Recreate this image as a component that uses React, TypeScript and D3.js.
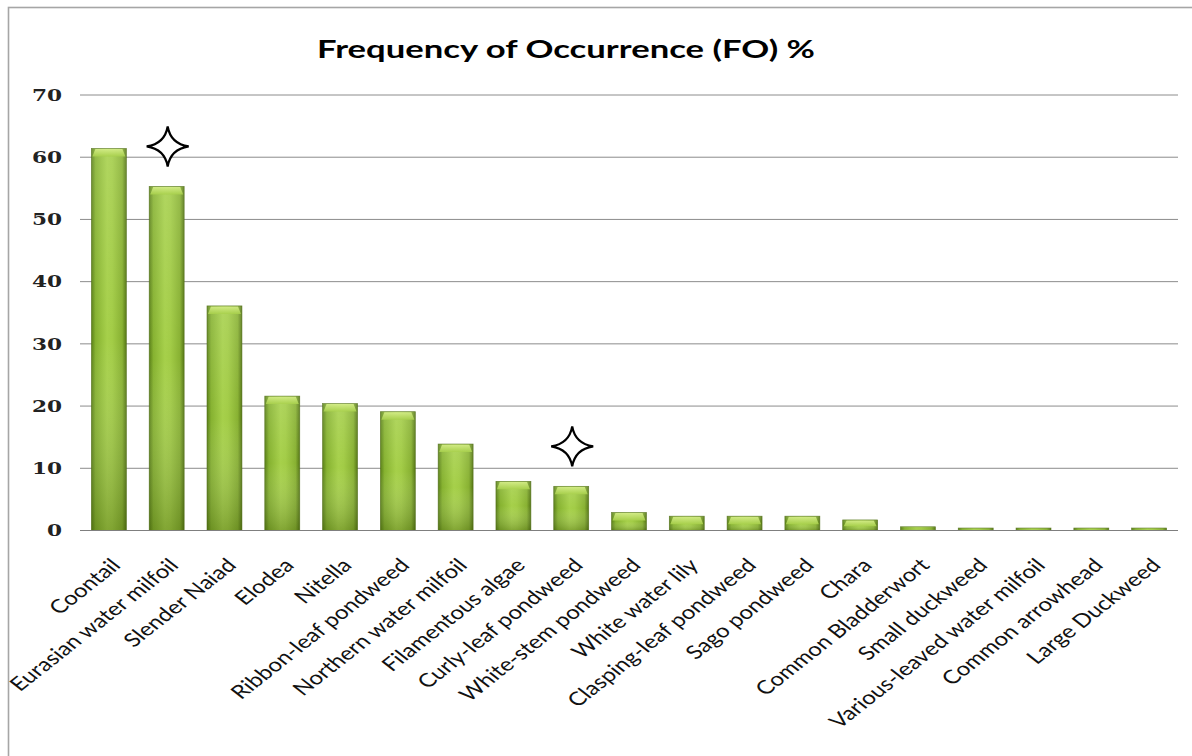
import React from "react";
import * as d3 from "d3";

const categories = [
  "Coontail",
  "Eurasian water milfoil",
  "Slender Naiad",
  "Elodea",
  "Nitella",
  "Ribbon-leaf pondweed",
  "Northern water milfoil",
  "Filamentous algae",
  "Curly-leaf pondweed",
  "White-stem pondweed",
  "White water lily",
  "Clasping-leaf pondweed",
  "Sago pondweed",
  "Chara",
  "Common Bladderwort",
  "Small duckweed",
  "Various-leaved water milfoil",
  "Common arrowhead",
  "Large Duckweed",
];
const values = [61.4, 55.3, 36.1, 21.6, 20.4, 19.1, 13.9, 7.9, 7.1, 2.9, 2.3, 2.3, 2.3, 1.7, 0.6, 0.4, 0.4, 0.4, 0.4];
const yTicks = [0, 10, 20, 30, 40, 50, 60, 70];
const starred = ["Eurasian water milfoil", "Curly-leaf pondweed"];
const title = "Frequency of Occurrence (FO) %";

const W = 1192;
const H = 756;
const SX = 1.35; // horizontal stretch of tick labels
const LSX = 1.27; // horizontal stretch of category labels

function starPath(cx: number, cy: number, rw: number, rh: number) {
  const k = 0.14;
  return (
    `M${cx},${cy - rh}` +
    `Q${cx + rw * k},${cy - rh * k} ${cx + rw},${cy}` +
    `Q${cx + rw * k},${cy + rh * k} ${cx},${cy + rh}` +
    `Q${cx - rw * k},${cy + rh * k} ${cx - rw},${cy}` +
    `Q${cx - rw * k},${cy - rh * k} ${cx},${cy - rh}Z`
  );
}

export default function App() {
  const x = d3
    .scaleBand<string>()
    .domain(categories)
    .range([80, 1178])
    .paddingInner(0.395)
    .paddingOuter(0.1975);
  const y = d3.scaleLinear().domain([0, 70]).range([530.5, 95]);
  const bw = x.bandwidth();

  return (
    <div style={{ position: "absolute", left: 0, top: 0, width: W, height: H, background: "#fff" }}>
      <svg width={W} height={H} style={{ display: "block" }}>
        <defs>
          <linearGradient id="barH" x1="0" y1="0" x2="1" y2="0">
            <stop offset="0%" stopColor="#5a8018" />
            <stop offset="12%" stopColor="#86b230" />
            <stop offset="45%" stopColor="#a6d04a" />
            <stop offset="60%" stopColor="#a2cc46" />
            <stop offset="88%" stopColor="#88b132" />
            <stop offset="100%" stopColor="#557615" />
          </linearGradient>
          <linearGradient id="barV" x1="0" y1="0" x2="0" y2="1">
            <stop offset="0%" stopColor="#ffffff" stopOpacity={0.12} />
            <stop offset="50%" stopColor="#ffffff" stopOpacity={0} />
            <stop offset="100%" stopColor="#2e4400" stopOpacity={0.3} />
          </linearGradient>
          <linearGradient id="cap" x1="0" y1="0" x2="0" y2="1">
            <stop offset="0%" stopColor="#d6ee8a" />
            <stop offset="100%" stopColor="#a8d04c" />
          </linearGradient>
        </defs>

        {/* outer frame */}
        <rect x={8.5} y={7.5} width={1300} height={900} fill="none" stroke="#a6a6a6" strokeWidth={1.6} />

        {/* title */}
        <text
          x={566}
          y={58}
          textAnchor="middle"
          fontFamily="Lato, 'Open Sans', sans-serif"
          fontWeight={700}
          fontSize={25}
          textLength={498}
          lengthAdjust="spacingAndGlyphs"
          fill="#000"
        >
          {title}
        </text>

        {/* gridlines */}
        {yTicks.map((t) => (
          <line key={"g" + t} x1={80} x2={1178} y1={y(t)} y2={y(t)} stroke="#8c8c8c" strokeWidth={1} />
        ))}

        {/* y tick labels */}
        {yTicks.map((t) => (
          <text
            key={"t" + t}
            transform={`translate(62,${y(t)}) scale(${SX},1)`}
            textAnchor="end"
            dy="0.36em"
            fontFamily="'DejaVu Serif', 'Liberation Serif', serif"
            fontWeight={700}
            fontSize={16}
            fill="#222"
          >
            {t}
          </text>
        ))}

        {/* bars */}
        {categories.map((c, i) => {
          const x0 = x(c)!;
          const yt = y(values[i]);
          const h = y(0) - yt;
          const capH = Math.min(8, h * 0.6);
          return (
            <g key={c}>
              <rect x={x0} y={yt} width={bw} height={h} fill="url(#barH)" />
              <rect x={x0} y={yt} width={bw} height={h} fill="url(#barV)" />
              {h > 4 && (
                <path
                  d={`M${x0 + 1},${yt + capH} L${x0 + 4},${yt + 0.5} L${x0 + bw - 4},${yt + 0.5} L${x0 + bw - 1},${yt + capH} Z`}
                  fill="url(#cap)"
                  opacity={0.9}
                />
              )}
              <rect x={x0} y={yt} width={bw} height={h} fill="none" stroke="#4f6c15" strokeWidth={0.7} strokeOpacity={0.75} />
            </g>
          );
        })}

        {/* baseline */}
        <line x1={80} x2={1178} y1={y(0)} y2={y(0)} stroke="#7f7f7f" strokeWidth={1} />

        {/* category labels */}
        {categories.map((c) => {
          const cx = x(c)! + bw / 2;
          return (
            <text
              key={"l" + c}
              transform={`translate(${cx + 13},${y(0) + 36}) scale(${LSX},1) rotate(-45)`}
              textAnchor="end"
              fontFamily="Lato, 'Open Sans', sans-serif"
              fontSize={19}
              fill="#111"
            >
              {c}
            </text>
          );
        })}

        {/* stars */}
        {starred.map((c) => {
          const i = categories.indexOf(c);
          const cx = x(c)! + bw / 2;
          const cy = y(values[i]) - 40;
          return (
            <path key={"s" + c} d={starPath(cx + 1, cy, 21, 20)} fill="#fff" stroke="#000" strokeWidth={2.2} />
          );
        })}
      </svg>
    </div>
  );
}
